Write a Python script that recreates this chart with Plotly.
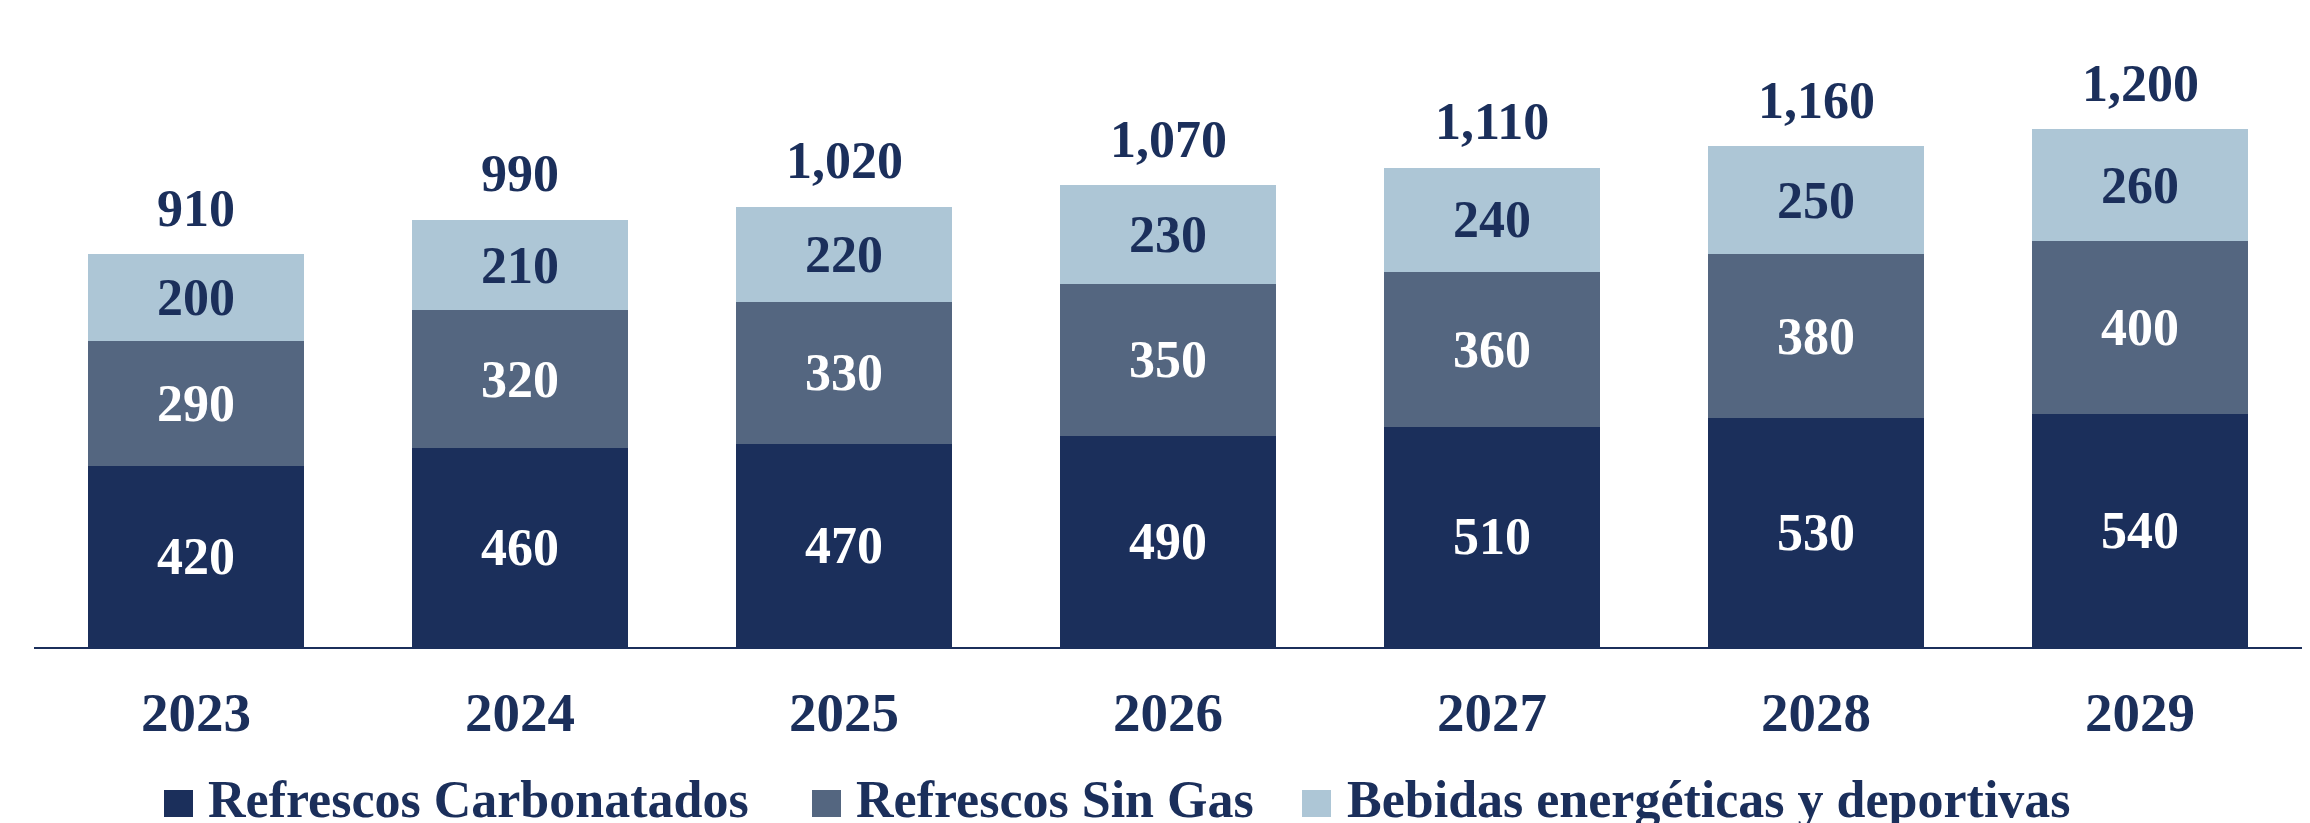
import plotly.graph_objects as go

years = ["2023", "2024", "2025", "2026", "2027", "2028", "2029"]
carbonatados = [420, 460, 470, 490, 510, 530, 540]
sin_gas = [290, 320, 330, 350, 360, 380, 400]
energeticas = [200, 210, 220, 230, 240, 250, 260]
totals = [910, 990, 1020, 1070, 1110, 1160, 1200]
series_names = ["Refrescos Carbonatados", "Refrescos Sin Gas", "Bebidas energéticas y deportivas"]

NAVY = "#1b2f5b"
MID = "#546680"
LIGHT = "#adc6d6"
colors = [NAVY, MID, LIGHT]
text_colors = ["white", "white", NAVY]
NUM_FONT = "Liberation Serif"

OFF = 8  # page body margin
W, H = 2310 - OFF, 823 - OFF
ML, MR, MT, MB = 34 - OFF, 8, 47 - OFF, 176
PW, PH = W - ML - MR, H - MT - MB

def px_x(p):
    return (p - OFF - ML) / PW

def px_y(p):
    return (H - MB - (p - OFF)) / PH

fig = go.Figure()
for name, vals, col, tc in zip(series_names, [carbonatados, sin_gas, energeticas], colors, text_colors):
    fig.add_trace(go.Bar(
        x=years, y=vals, name=name, marker=dict(color=col, line=dict(width=0)),
        text=[str(v) for v in vals], textposition="inside", insidetextanchor="middle",
        textangle=0, constraintext="none",
        textfont=dict(family=NUM_FONT, size=52, color=tc, weight="bold"),
        showlegend=False,
    ))

annotations = []
for i, t in enumerate(totals):
    annotations.append(dict(
        x=i, y=t, xref="x", yref="y", text=f"{t:,}", showarrow=False,
        yanchor="middle", yshift=46,
        font=dict(family=NUM_FONT, size=52, color=NAVY, weight="bold"),
    ))

# custom legend
legend_sq_x = [164, 812, 1302]
legend_txt_x = [206, 854, 1345]
shapes = []
for name, col, sx, tx in zip(series_names, colors, legend_sq_x, legend_txt_x):
    shapes.append(dict(type="rect", xref="paper", yref="paper",
                       x0=px_x(sx), x1=px_x(sx + 29), y0=px_y(817), y1=px_y(790),
                       fillcolor=col, line=dict(width=0)))
    annotations.append(dict(
        x=px_x(tx), y=px_y(799), xref="paper", yref="paper", text=name,
        showarrow=False, xanchor="left", yanchor="middle",
        font=dict(family="Liberation Serif", size=52, color=NAVY, weight="bold"),
    ))

fig.update_layout(
    width=W, height=H,
    margin=dict(l=ML, r=MR, t=MT, b=MB),
    barmode="stack", bargap=0.333,
    plot_bgcolor="white", paper_bgcolor="white",
    showlegend=False,
    annotations=annotations, shapes=shapes,
    xaxis=dict(type="category", range=[-0.5, len(years) - 0.5], autorange=False,
               showline=True, linecolor=NAVY, linewidth=2, showgrid=False,
               ticks="", ticklabelstandoff=16,
               tickfont=dict(family=NUM_FONT, size=55, color=NAVY, weight="bold")),
    yaxis=dict(range=[0, PH / 0.4316], autorange=False, visible=False, showgrid=False),
)

fig.write_html("out.html")
